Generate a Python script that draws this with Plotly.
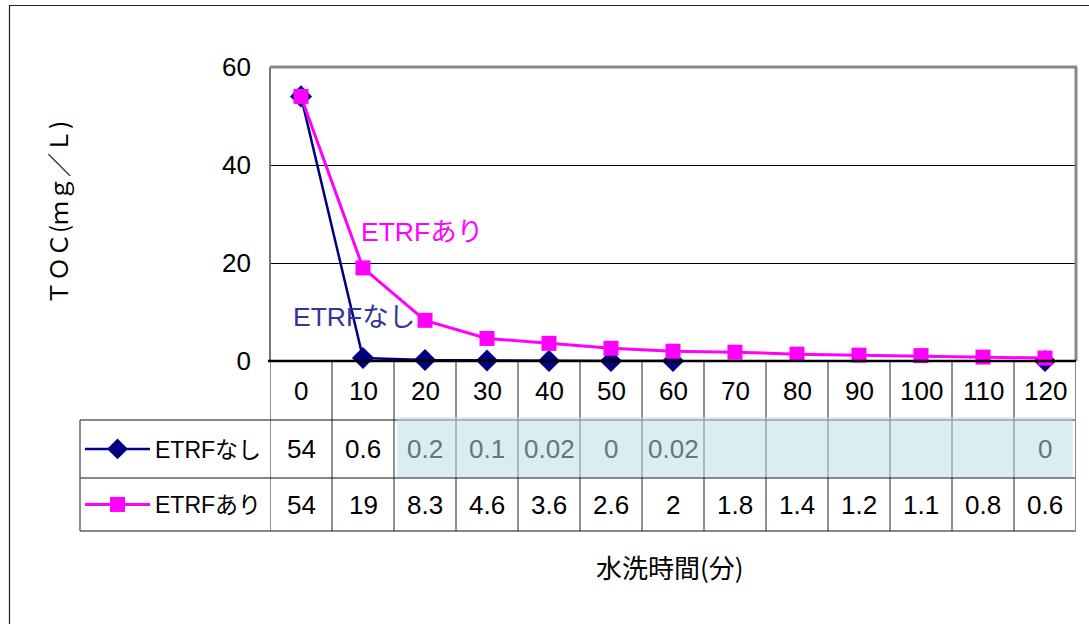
import plotly.graph_objects as go

W, H = 1089, 624

# ---- data ----
categories = ["0", "10", "20", "30", "40", "50", "60", "70", "80", "90", "100", "110", "120"]
etrf_nashi = [54, 0.6, 0.2, 0.1, 0.02, 0, 0.02, None, None, None, None, None, 0]
etrf_ari = [54, 19, 8.3, 4.6, 3.6, 2.6, 2, 1.8, 1.4, 1.2, 1.1, 0.8, 0.6]
name_nashi = "ETRFなし"
name_ari = "ETRFあり"
y_ticks = [0, 20, 40, 60]
x_title = "水洗時間(分)"
y_title = "ＴＯＣ(ｍｇ／Ｌ)"

NAVY = "#000080"
MAGENTA = "#FF00FF"
NARROW = "Liberation Sans, Arial, Noto Sans CJK JP"
SANS = "Liberation Sans, Arial, Noto Sans CJK JP"
NUM_SIZE = 26


def px_x(px):
    return px / W


def px_y(py):
    return (H - py) / H


PL, PR, PT, PB = 270, 1076, 67, 361
ROW_LINES = [361, 420, 478, 531]
LEG_L = 80

fig = go.Figure()
fig.add_trace(go.Scatter(
    x=categories, y=etrf_nashi, name=name_nashi, mode="lines+markers",
    line=dict(color=NAVY, width=2.5), marker=dict(symbol="diamond", size=17, color=NAVY),
    connectgaps=False, cliponaxis=False, legend="legend",
))
fig.add_trace(go.Scatter(
    x=categories, y=etrf_ari, name=name_ari, mode="lines+markers",
    line=dict(color=MAGENTA, width=3), marker=dict(symbol="square", size=15, color=MAGENTA),
    cliponaxis=False, legend="legend2",
))

shapes = []
# outer chart frame
shapes.append(dict(type="rect", xref="paper", yref="paper", x0=px_x(9.5), x1=1.05,
                   y0=px_y(5.5), y1=-0.05, line=dict(color="#222", width=1.2), layer="below"))
# data-table horizontal lines
for py in ROW_LINES[1:]:
    shapes.append(dict(type="line", xref="paper", yref="paper", x0=px_x(LEG_L), x1=px_x(PR),
                       y0=px_y(py), y1=px_y(py), line=dict(color="#111", width=1.2)))
shapes.append(dict(type="line", xref="paper", yref="paper", x0=px_x(LEG_L), x1=px_x(LEG_L),
                   y0=px_y(ROW_LINES[1]), y1=px_y(ROW_LINES[3]), line=dict(color="#666", width=1.5)))
# data-table vertical lines on category boundaries
for k in range(len(categories)):
    shapes.append(dict(type="line", xref="x", yref="paper", x0=k - 0.5, x1=k - 0.5,
                       y0=px_y(PB), y1=px_y(ROW_LINES[3]), line=dict(color="#222", width=1)))
shapes.append(dict(type="line", xref="x", yref="paper", x0=len(categories) - 0.5, x1=len(categories) - 0.5,
                   y0=px_y(PB), y1=px_y(ROW_LINES[3]), line=dict(color="#888", width=2)))
# plot-area borders
shapes.append(dict(type="line", xref="paper", yref="paper", x0=px_x(PL), x1=px_x(PL),
                   y0=px_y(PT), y1=px_y(PB), line=dict(color="#777", width=2)))
shapes.append(dict(type="line", xref="paper", yref="paper", x0=px_x(PL), x1=px_x(PR + 1),
                   y0=px_y(PT), y1=px_y(PT), line=dict(color="#888", width=3)))
shapes.append(dict(type="line", xref="paper", yref="paper", x0=px_x(PR), x1=px_x(PR),
                   y0=px_y(PT), y1=px_y(PB), line=dict(color="#888", width=3)))
shapes.append(dict(type="line", xref="paper", yref="paper", x0=px_x(PL - 2), x1=px_x(PR),
                   y0=px_y(PB), y1=px_y(PB), line=dict(color="#000", width=2.5)))
# shaded cells in the ETRFなし row
shapes.append(dict(type="rect", xref="x", yref="paper", x0=1.55, x1=12.45,
                   y0=px_y(417), y1=px_y(477), fillcolor="rgba(186,221,227,0.54)",
                   line=dict(width=0), layer="above"))

annotations = []
row_c = [(ROW_LINES[i] + ROW_LINES[i + 1]) / 2 for i in range(3)]


def fmt(v):
    return "" if v is None else f"{v:g}"


def ann(**kw):
    d = dict(showarrow=False, xanchor="center", yanchor="middle")
    d.update(kw)
    annotations.append(d)


for i, c in enumerate(categories):
    ann(x=i, y=px_y(row_c[0]), xref="x", yref="paper", text=c,
        font=dict(family=NARROW, size=NUM_SIZE, color="#000"))
    shaded = i >= 2
    ann(x=i, y=px_y(row_c[1]), xref="x", yref="paper", text=fmt(etrf_nashi[i]),
        font=dict(family=NARROW, size=NUM_SIZE, color="rgb(100,119,122)" if shaded else "#000"))
    ann(x=i, y=px_y(row_c[2]), xref="x", yref="paper", text=fmt(etrf_ari[i]),
        font=dict(family=NARROW, size=NUM_SIZE, color="#000"))

ann(x=px_x(422), y=px_y(232), xref="paper", yref="paper", text=name_ari,
    font=dict(family=SANS, size=26.5, color=MAGENTA))
ann(x=px_x(354), y=px_y(317), xref="paper", yref="paper", text=name_nashi,
    font=dict(family=SANS, size=26.5, color="#333399"))
ann(x=px_x(670), y=px_y(566), xref="paper", yref="paper", text=x_title,
    font=dict(family="Noto Sans CJK JP", size=26, color="#000"))
ann(x=px_x(57), y=px_y(213), xref="paper", yref="paper", text=y_title, textangle=-90,
    font=dict(family="Noto Sans CJK JP", size=24, color="#000"))

leg_common = dict(xanchor="left", yanchor="middle", bgcolor="rgba(0,0,0,0)", itemwidth=65,
                  font=dict(family=NARROW, size=23, color="#000"))

fig.update_layout(
    width=W, height=H, margin=dict(l=0, r=0, t=0, b=0, autoexpand=False),
    paper_bgcolor="white", plot_bgcolor="white",
    showlegend=True,
    legend=dict(x=px_x(LEG_L), y=px_y(row_c[1]), **leg_common),
    legend2=dict(x=px_x(LEG_L), y=px_y(row_c[2]), **leg_common),
    xaxis=dict(type="category", domain=[px_x(PL), px_x(PR)], range=[-0.5, len(categories) - 0.5],
               showticklabels=False, showgrid=False, zeroline=False, showline=False, ticks=""),
    yaxis=dict(domain=[px_y(PB), px_y(PT)], range=[0, 60], tickvals=y_ticks,
               showgrid=True, gridcolor="#000", gridwidth=1, zeroline=False, showline=False,
               ticks="", ticklabelstandoff=18,
               tickfont=dict(family=NARROW, size=NUM_SIZE, color="#000")),
    shapes=shapes, annotations=annotations,
)

fig.write_html("out.html")
